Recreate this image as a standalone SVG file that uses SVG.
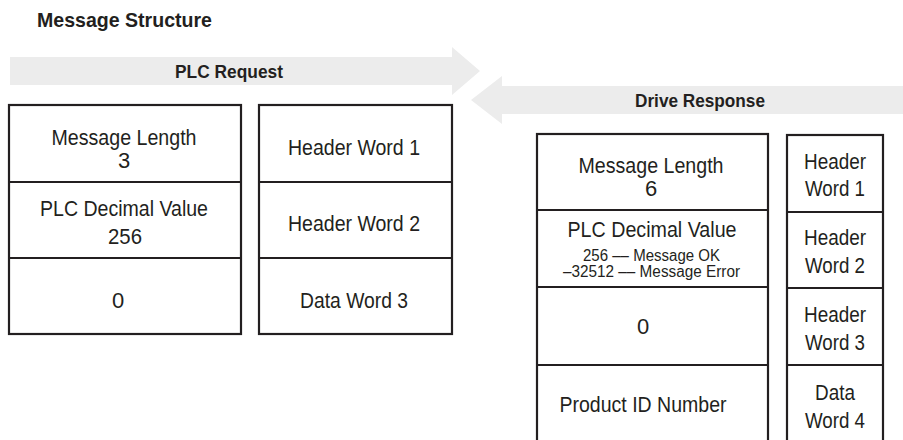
<svg xmlns="http://www.w3.org/2000/svg" width="903" height="440" viewBox="0 0 903 440">
<style>
text{font-family:"Liberation Sans",Arial,sans-serif;fill:#231f20;text-anchor:middle}
.t{font-weight:bold;font-size:20.5px;text-anchor:start}
.a{font-weight:bold;font-size:18.5px}
.n{font-size:22px}
.s{font-size:16px}
.box{fill:#fff;stroke:#231f20;stroke-width:2.2}
.arr{fill:#ececec}
</style>
<rect width="903" height="440" fill="#fff"/>
<text class="t" x="37" y="27" textLength="175" lengthAdjust="spacingAndGlyphs">Message Structure</text>
<g id="connectors">
<polygon class="arr" points="10,57 452,57 452,47 480,71 452,95 452,85 10,85"/>
<polygon class="arr" points="903,86 502,86 502,76 471,100 502,124 502,114 903,114"/>
</g>
<g id="plc-request-label"><text class="a" x="229" y="78" textLength="108" lengthAdjust="spacingAndGlyphs">PLC Request</text></g>
<g id="drive-response-label"><text class="a" x="700" y="107" textLength="130" lengthAdjust="spacingAndGlyphs">Drive Response</text></g>
<g id="req-left">
<rect class="box" x="9" y="105" width="232" height="229"/>
<line class="box" x1="9" y1="182" x2="241" y2="182"/>
<line class="box" x1="9" y1="258" x2="241" y2="258"/>
<text class="n" x="124" y="145" textLength="145" lengthAdjust="spacingAndGlyphs">Message Length</text>
<text class="n" x="124" y="168">3</text>
<text class="n" x="124" y="216" textLength="168" lengthAdjust="spacingAndGlyphs">PLC Decimal Value</text>
<text class="n" x="125" y="244" textLength="34" lengthAdjust="spacingAndGlyphs">256</text>
<text class="n" x="118" y="308">0</text>
</g>
<g id="req-right">
<rect class="box" x="259" y="105" width="193" height="229"/>
<line class="box" x1="259" y1="182" x2="452" y2="182"/>
<line class="box" x1="259" y1="258" x2="452" y2="258"/>
<text class="n" x="354" y="155" textLength="132" lengthAdjust="spacingAndGlyphs">Header Word 1</text>
<text class="n" x="354" y="231" textLength="132" lengthAdjust="spacingAndGlyphs">Header Word 2</text>
<text class="n" x="354" y="308" textLength="108" lengthAdjust="spacingAndGlyphs">Data Word 3</text>
</g>
<g id="resp-left">
<rect class="box" x="537" y="134" width="231" height="320"/>
<line class="box" x1="537" y1="210" x2="768" y2="210"/>
<line class="box" x1="537" y1="287" x2="768" y2="287"/>
<line class="box" x1="537" y1="365" x2="768" y2="365"/>
<text class="n" x="651" y="173" textLength="145" lengthAdjust="spacingAndGlyphs">Message Length</text>
<text class="n" x="651" y="196">6</text>
<text class="n" x="652" y="237" textLength="169" lengthAdjust="spacingAndGlyphs">PLC Decimal Value</text>
<text class="s" x="651.5" y="261" textLength="137" lengthAdjust="spacingAndGlyphs">256 –– Message OK</text>
<text class="s" x="651.5" y="277" textLength="177" lengthAdjust="spacingAndGlyphs">–32512 –– Message Error</text>
<text class="n" x="643" y="334">0</text>
<text class="n" x="643" y="412" textLength="167" lengthAdjust="spacingAndGlyphs">Product ID Number</text>
</g>
<g id="resp-right">
<rect class="box" x="787" y="135" width="96" height="320"/>
<line class="box" x1="787" y1="212" x2="883" y2="212"/>
<line class="box" x1="787" y1="288" x2="883" y2="288"/>
<line class="box" x1="787" y1="365" x2="883" y2="365"/>
<text class="n" x="835" y="169" textLength="62" lengthAdjust="spacingAndGlyphs">Header</text>
<text class="n" x="835" y="196" textLength="60" lengthAdjust="spacingAndGlyphs">Word 1</text>
<text class="n" x="835" y="245" textLength="62" lengthAdjust="spacingAndGlyphs">Header</text>
<text class="n" x="835" y="273" textLength="60" lengthAdjust="spacingAndGlyphs">Word 2</text>
<text class="n" x="835" y="322" textLength="62" lengthAdjust="spacingAndGlyphs">Header</text>
<text class="n" x="835" y="350" textLength="60" lengthAdjust="spacingAndGlyphs">Word 3</text>
<text class="n" x="835" y="400" textLength="40" lengthAdjust="spacingAndGlyphs">Data</text>
<text class="n" x="835" y="428" textLength="60" lengthAdjust="spacingAndGlyphs">Word 4</text>
</g>
</svg>
